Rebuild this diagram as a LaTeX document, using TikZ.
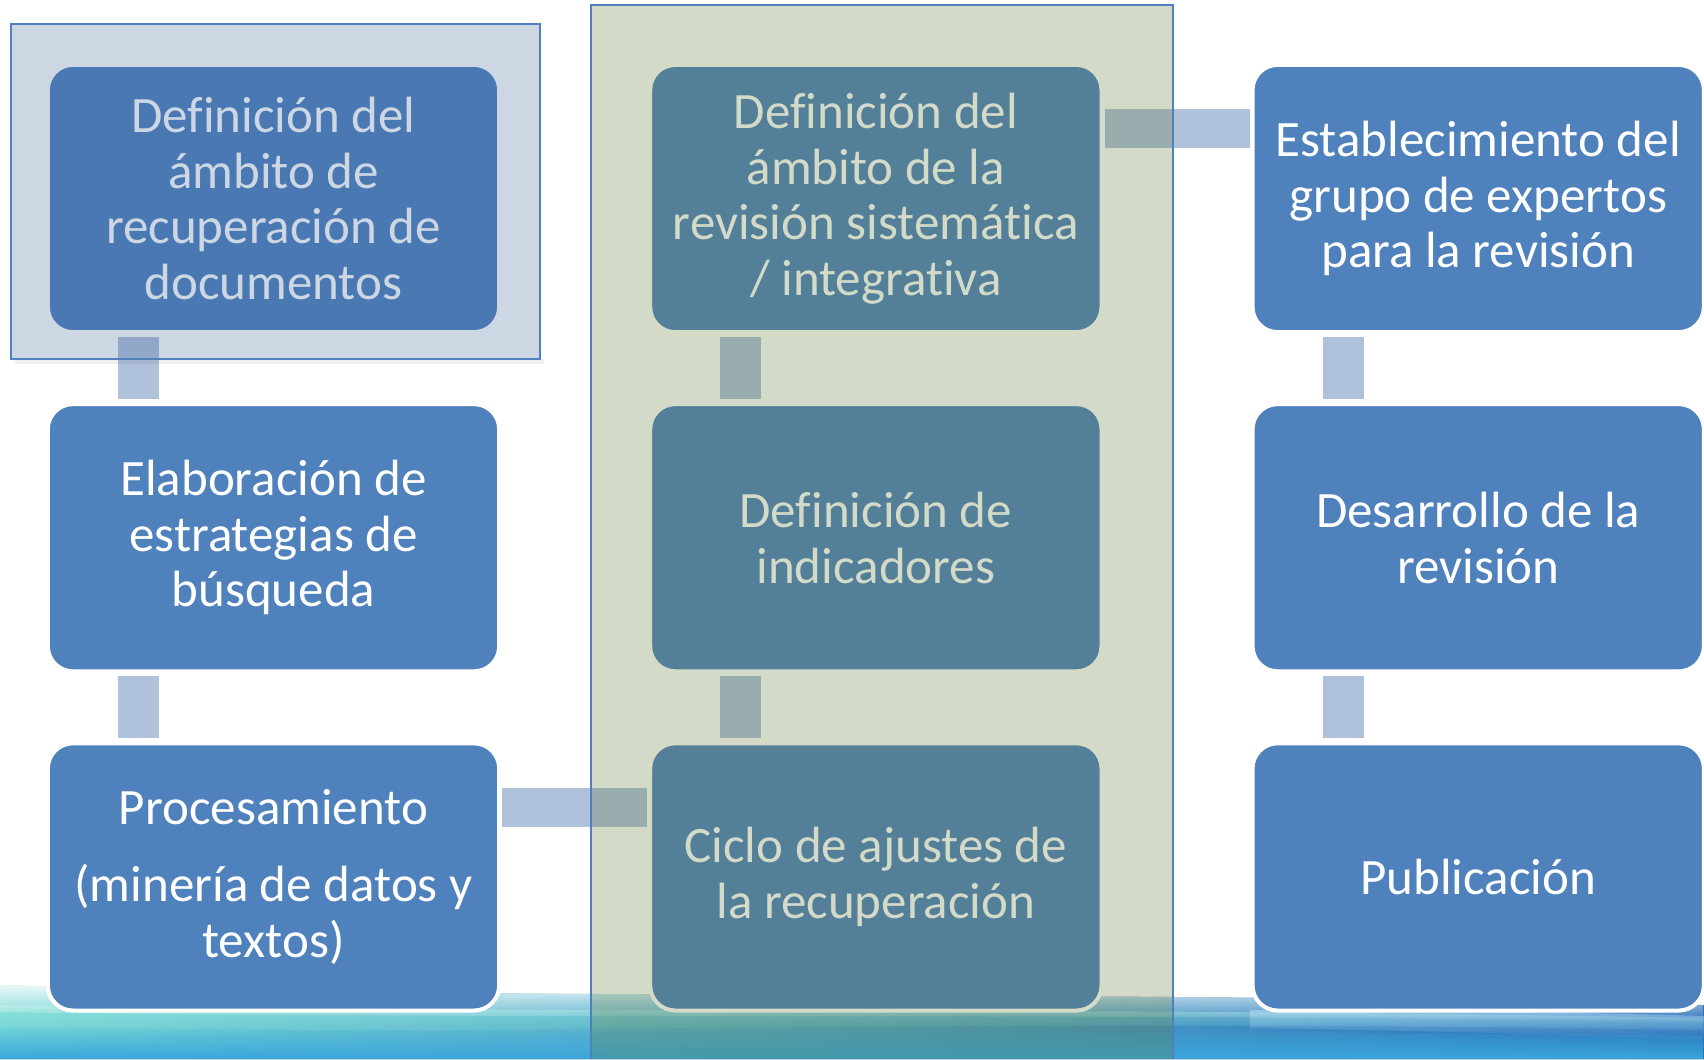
\documentclass[tikz,border=0pt]{standalone}
\usepackage{fontspec}
\setmainfont{Carlito}[Ligatures=NoCommon]
\usetikzlibrary{positioning}
\usetikzlibrary{fadings}
\definecolor{mblue}{HTML}{4F81BD}
\definecolor{mlink}{HTML}{B0C1DC}
\definecolor{mgreen}{rgb}{0.37, 0.48, 0.21}
\definecolor{mnavy}{rgb}{0.22, 0.38, 0.58}
\definecolor{mteal}{HTML}{74D6D6}
\definecolor{mfoam}{HTML}{A2ECDE}
\definecolor{msky}{HTML}{9CC8F2}
\definecolor{msea}{HTML}{2A72BA}
\definecolor{mcyan}{HTML}{3AA6DC}
\tikzfading[name=fade down, top color=transparent!0, bottom color=transparent!100]
\tikzfading[name=fade up, top color=transparent!100, bottom color=transparent!0]
\tikzset{stepbox/.style = {rectangle, rounded corners=0.25cm, fill=mblue, draw=white,
                           line width=0.04cm, minimum width=4.51cm, minimum height=2.67cm,
                           align=center, text=white, outer sep=0,
                           font=\fontsize{14.5}{15.8}\selectfont}}
\tikzset{vlink/.style = {mlink, line width=0.41cm, shorten <=0.05cm, shorten >=0.05cm}}
\tikzset{hlink/.style = {mlink, line width=0.39cm, shorten <=0.03cm, shorten >=0.03cm}}

\begin{document}
\begin{tikzpicture}[x=0.01cm, y=-0.01cm]
      \useasboundingbox (0, 0) rectangle (1704, 1059);
      \fill [white] (0, 0) rectangle (1704, 1059);

      % sea at the bottom
      \fill [left color=mteal, right color=msea] (0, 985) .. controls (500, 1000) and (1100, 990) .. (1704, 1005) -- (1704, 1059) -- (0, 1059) -- cycle;
      \fill [msky, opacity=0.6, path fading=fade down] (1250, 1010) .. controls (1450, 1010) and (1600, 1013) .. (1704, 1016) -- (1704, 1040) .. controls (1550, 1034) and (1400, 1030) .. (1250, 1028) -- cycle;
      \fill [mfoam, opacity=0.5, path fading=fade down] (0, 1005) .. controls (500, 1015) and (1000, 1005) .. (1704, 1018) -- (1704, 1030) .. controls (1000, 1018) and (500, 1035) .. (0, 1030) -- cycle;
      \fill [mcyan, path fading=fade up] (0, 1025) .. controls (500, 1035) and (1000, 1030) .. (1704, 1035) -- (1704, 1059) -- (0, 1059) -- cycle;
      \fill [white, path fading=fade down] (0, 978) .. controls (500, 992) and (1100, 982) .. (1704, 998) -- (1704, 1022) .. controls (1100, 1012) and (500, 1020) .. (0, 1012) -- cycle;

      \node [stepbox] (a1) at (273.5, 198.5) {Definición del\\ámbito de\\recuperación de\\documentos};
      \node [stepbox, below=0.72cm of a1] (a2) {Elaboración de\\estrategias de\\búsqueda};
      \node [stepbox, below=0.72cm of a2] (a3) {Procesamiento\\[0.22cm](minería de datos y\\textos)};

      \node [stepbox, right=1.51cm of a1] (m1) {Definición del\\ámbito de la\\revisión sistemática\\/ integrativa};
      \node [stepbox, below=0.72cm of m1] (m2) {Definición de\\indicadores};
      \node [stepbox, below=0.72cm of m2] (m3) {Ciclo de ajustes de\\la recuperación};

      \node [stepbox, right=1.51cm of m1] (r1) {Establecimiento del\\grupo de expertos\\para la revisión};
      \node [stepbox, below=0.72cm of r1] (r2) {Desarrollo de la\\revisión};
      \node [stepbox, below=0.72cm of r2] (r3) {Publicación};

      \foreach \col in {a, m, r} {
        \draw [vlink] ([xshift=0.905cm]\col1.south west) -- ([xshift=0.905cm]\col2.north west);
        \draw [vlink] ([xshift=0.905cm]\col2.south west) -- ([xshift=0.905cm]\col3.north west);
      }
      \draw [hlink] ([yshift=-0.645cm]a3.north east) -- ([yshift=-0.645cm]m3.north west);
      \draw [hlink] ([yshift=-0.64cm]m1.north east) -- ([yshift=-0.64cm]r1.north west);

      % tinted panels
      \fill [mgreen, fill opacity=0.27] (591, 5) rectangle (1173, 1059);
      \draw [mblue, line width=0.015cm] (591, 1059) -- (591, 5) -- (1173, 5) -- (1173, 1059);

      \fill [black, opacity=0.06] (15, 359) rectangle (544, 364);
      \fill [mnavy, fill opacity=0.25] (11, 24) rectangle (540, 359);
      \draw [mblue, line width=0.015cm] (11, 24) rectangle (540, 359);
    \end{tikzpicture}
\end{document}
